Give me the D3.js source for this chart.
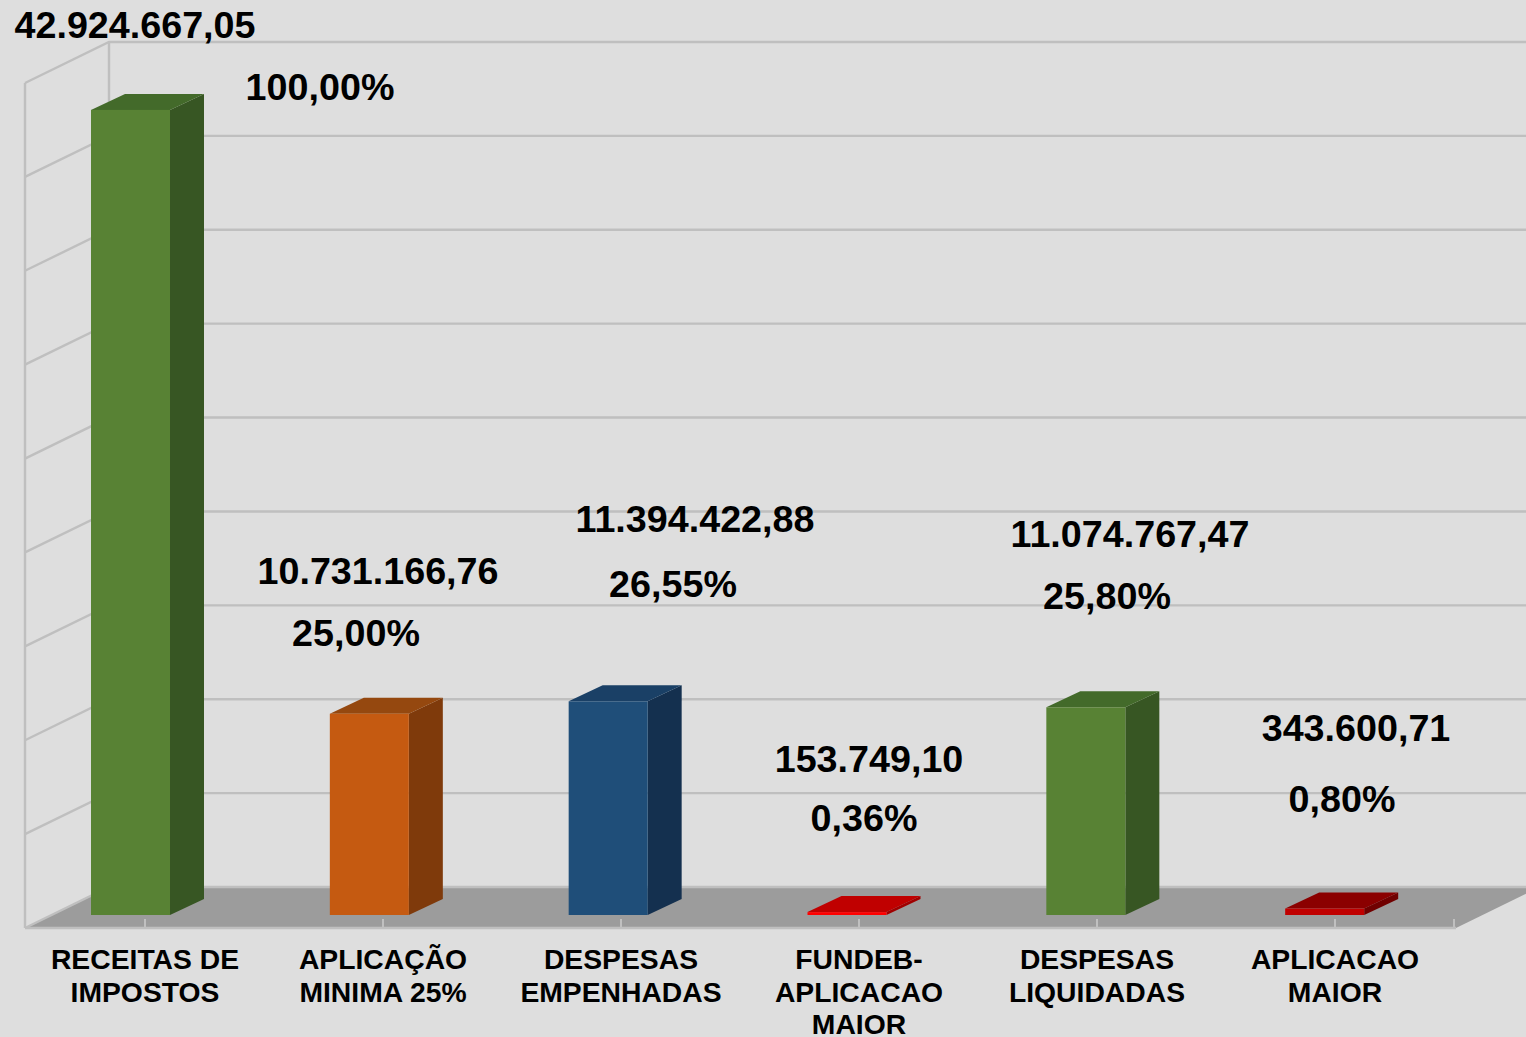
<!DOCTYPE html>
<html>
    <head>
        <meta charset="utf-8">
        <script src="https://d3js.org/d3.v7.min.js"></script>
        <style>
            html, body { margin: 0; padding: 0; background: #dedede; overflow: hidden; }
            text { font-family: "Liberation Sans", Arial, sans-serif; font-weight: bold; fill: #000; }
        </style>
    </head>
    <body>
        <script>
            var categories = [
                ['RECEITAS DE', 'IMPOSTOS'],
                ['APLICAÇÃO', 'MINIMA 25%'],
                ['DESPESAS', 'EMPENHADAS'],
                ['FUNDEB-', 'APLICACAO', 'MAIOR'],
                ['DESPESAS', 'LIQUIDADAS'],
                ['APLICACAO', 'MAIOR']
            ];
            var values = [42924667.05, 10731166.76, 11394422.88, 153749.10, 11074767.47, 343600.71];
            var valueLabels = ['42.924.667,05', '10.731.166,76', '11.394.422,88', '153.749,10', '11.074.767,47', '343.600,71'];
            var percentLabels = ['100,00%', '25,00%', '26,55%', '0,36%', '25,80%', '0,80%'];
            var gridTicks = d3.range(0, 45000001, 5000000);

            // colours per bar: front, top, side
            var barColors = [
                ['#588234', '#436a2a', '#375623'],
                ['#c55a11', '#95480f', '#7f3a0b'],
                ['#1f4e79', '#1a4066', '#14304f'],
                ['#ff0000', '#c00000', '#a00000'],
                ['#588234', '#436a2a', '#375623'],
                ['#c00000', '#8b0000', '#700000']
            ];

            // hand placed labels, they do not follow the bars in the original
            var valuePos = [[135, 38], [378, 584], [695, 532], [869, 772], [1130, 547], [1356, 741]];
            var percentPos = [[320, 100], [356, 646], [673, 597], [864, 831], [1107, 609], [1342, 812]];

            var width = 1526, height = 1037;
            var depth = { x: 84, y: 41 },      // wall depth
                barDepth = { x: 34, y: 16 },
                barWidth = 79;

            var svg = d3.select('body').append('svg')
                .attr('width', width)
                .attr('height', height)
                .style('display', 'block');

            var idx = d3.range(categories.length);
            var x = d3.scaleBand().domain(idx).range([26, 1454]);      // ticks and category labels
            var xBar = d3.scaleBand().domain(idx).range([25, 1458]);   // bars are a bit wider spaced
            var y = d3.scaleLinear().domain([0, 45000000]).range([887, 42]);
            var yBar = d3.scaleLinear().domain([0, 45000000]).range([915, 71]);

            var line = d3.line();
            var poly = function(pts) { return line(pts) + 'Z'; };

            // floor
            svg.append('path')
                .attr('d', poly([[25, y(0) + depth.y], [25 + depth.x, y(0)], [1540, y(0)], [1456, y(0) + depth.y]]))
                .attr('fill', '#9c9c9c');

            // grid, back wall and left wall
            var grid = svg.append('g').attr('fill', 'none').attr('stroke', '#bfbfbf').attr('stroke-width', 2.4);
            gridTicks.forEach(function(t) {
                grid.append('path').attr('d', line([[25, y(t) + depth.y], [25 + depth.x, y(t)], [width, y(t)]]));
            });
            grid.append('line').attr('x1', 25).attr('x2', 25).attr('y1', y(45000000) + depth.y).attr('y2', y(0) + depth.y);
            grid.append('line').attr('x1', 109).attr('x2', 109).attr('y1', y(45000000)).attr('y2', y(0));
            grid.append('line').attr('x1', 25).attr('x2', 1456).attr('y1', y(0) + depth.y).attr('y2', y(0) + depth.y);

            // ticks on the floor edge
            var tickX = idx.map(function(i) { return x(i) + x.bandwidth() / 2; }).concat([1454]);
            svg.append('g').selectAll('line').data(tickX).enter().append('line')
                .attr('x1', function(d) { return d; })
                .attr('x2', function(d) { return d; })
                .attr('y1', 919)
                .attr('y2', 927)
                .attr('stroke', '#c0c0c0')
                .attr('stroke-width', 2);

            // bars
            var bars = svg.selectAll('g.bar').data(values).enter().append('g').attr('class', 'bar');
            var baseY = yBar(0);
            var left = function(i) { return xBar(i) + 66; };

            bars.append('path')  // side
                .attr('d', function(d, i) {
                    var r = left(i) + barWidth;
                    return poly([[r, yBar(d)], [r + barDepth.x, yBar(d) - barDepth.y], [r + barDepth.x, baseY - barDepth.y], [r, baseY]]);
                })
                .attr('fill', function(d, i) { return barColors[i][2]; });
            bars.append('path')  // top
                .attr('d', function(d, i) {
                    var l = left(i), r = l + barWidth;
                    return poly([[l, yBar(d)], [l + barDepth.x, yBar(d) - barDepth.y], [r + barDepth.x, yBar(d) - barDepth.y], [r, yBar(d)]]);
                })
                .attr('fill', function(d, i) { return barColors[i][1]; });
            bars.append('rect')  // front
                .attr('x', function(d, i) { return left(i); })
                .attr('y', function(d) { return yBar(d); })
                .attr('width', barWidth)
                .attr('height', function(d) { return baseY - yBar(d); })
                .attr('fill', function(d, i) { return barColors[i][0]; });

            // value and percent labels
            svg.append('g').selectAll('text').data(valueLabels).enter().append('text')
                .attr('x', function(d, i) { return valuePos[i][0]; })
                .attr('y', function(d, i) { return valuePos[i][1]; })
                .attr('text-anchor', 'middle')
                .style('font-size', '37.7px')
                .text(function(d) { return d; });
            svg.append('g').selectAll('text').data(percentLabels).enter().append('text')
                .attr('x', function(d, i) { return percentPos[i][0]; })
                .attr('y', function(d, i) { return percentPos[i][1]; })
                .attr('text-anchor', 'middle')
                .style('font-size', '37.7px')
                .text(function(d) { return d; });

            // category labels
            var cat = svg.append('g').selectAll('text').data(categories).enter().append('text')
                .attr('text-anchor', 'middle')
                .style('font-size', '28.3px');
            cat.selectAll('tspan').data(function(d, i) {
                    return d.map(function(s, k) { return { s: s, k: k, i: i }; });
                }).enter().append('tspan')
                .attr('x', function(d) { return x(d.i) + x.bandwidth() / 2; })
                .attr('y', function(d) { return 969 + d.k * 32.7; })
                .text(function(d) { return d.s; });
        </script>
    </body>
</html>
